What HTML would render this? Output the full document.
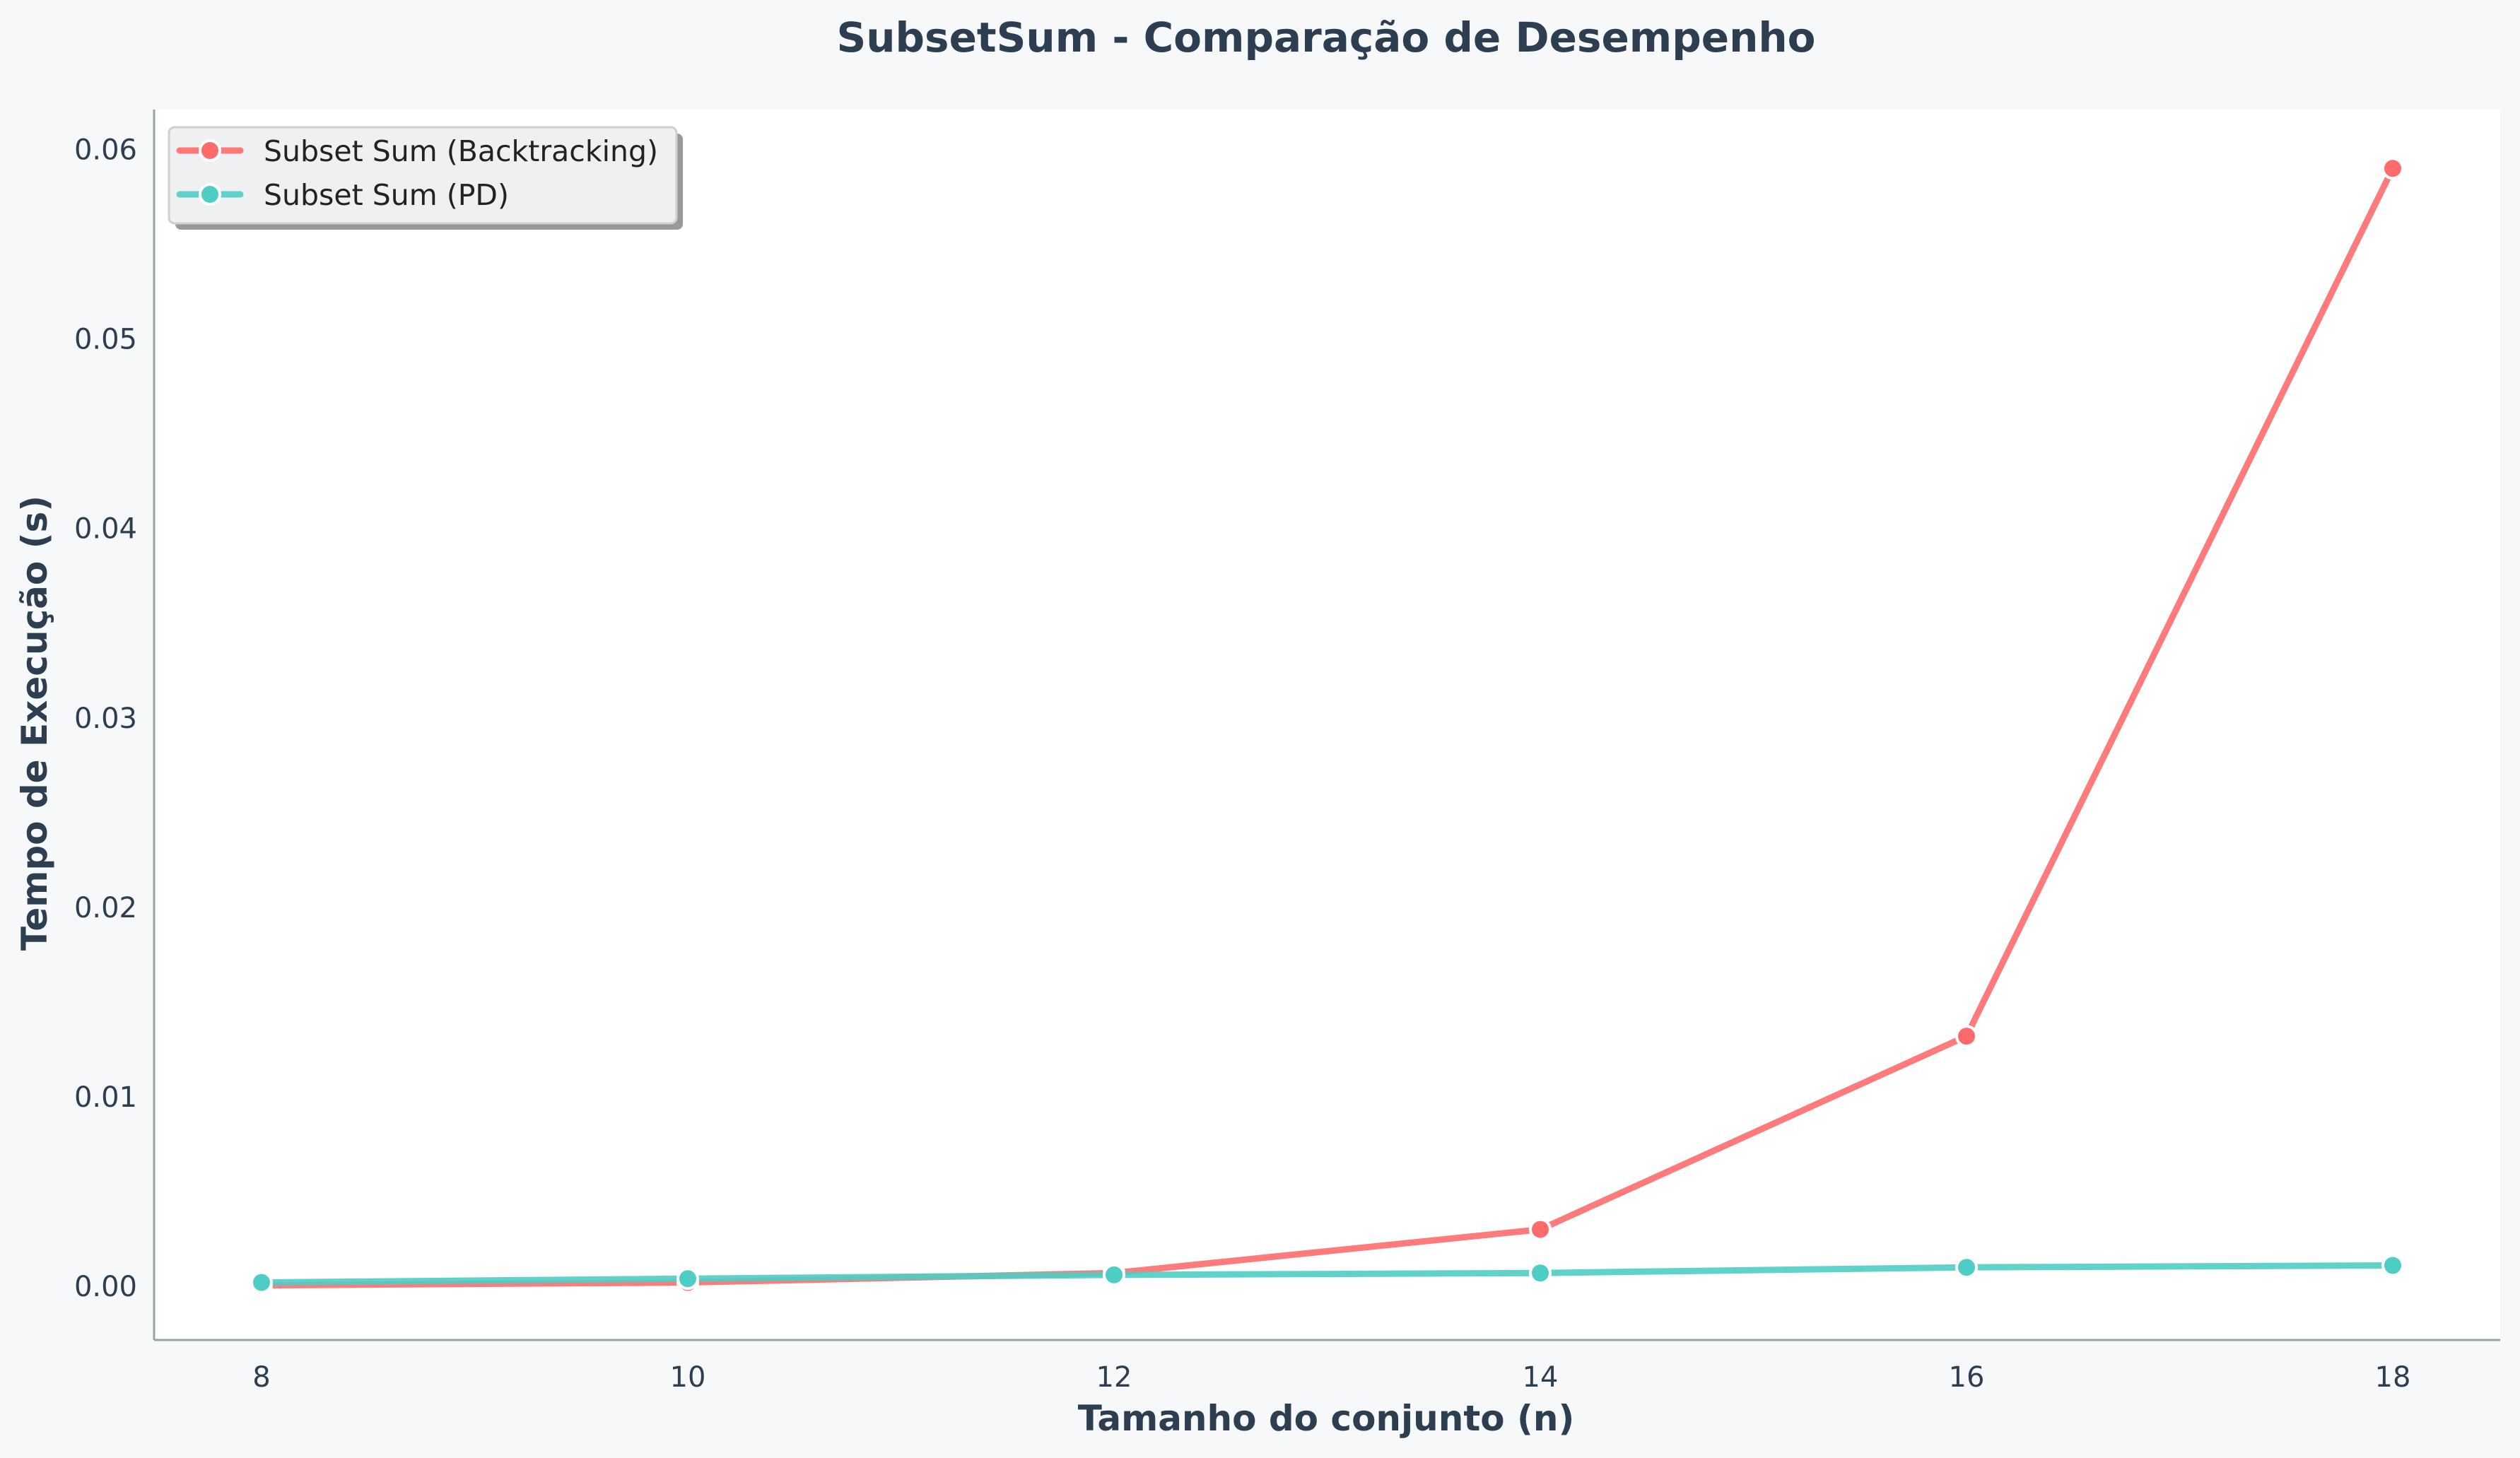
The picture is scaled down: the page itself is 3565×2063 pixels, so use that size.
<!DOCTYPE html>
<html><head><meta charset="utf-8"><style>
html,body{margin:0;padding:0;background:#f7f8fa;}
svg{display:block;font-family:"DejaVu Sans","Liberation Sans",sans-serif;}
</style></head><body>
<svg id="chart" width="3565" height="2063" viewBox="0 0 3565 2063">
<rect x="0" y="0" width="3565" height="2063" fill="#f7f8fa"/>
<rect x="218" y="155" width="3319" height="1741" fill="#ffffff"/>
<text x="1876" y="73" text-anchor="middle" font-size="58" font-weight="bold" fill="#2c3e50">SubsetSum - Comparação de Desempenho</text>
<g id="yticks"></g><g id="xticks"></g>
<line x1="218" y1="155" x2="218" y2="1896" stroke="#95a5a6" stroke-width="3"/>
<line x1="218" y1="1896" x2="3537" y2="1896" stroke="#95a5a6" stroke-width="3"/>
<g id="series"></g>
<text x="1876" y="2024" text-anchor="middle" font-size="50" font-weight="bold" fill="#2c3e50">Tamanho do conjunto (n)</text>
<text transform="translate(66,1023) rotate(-90)" text-anchor="middle" font-size="50" font-weight="bold" fill="#2c3e50">Tempo de Execução (s)</text>
<g>
<rect x="248" y="189" width="718" height="136" rx="8" fill="#999"/>
<rect x="239" y="180" width="718" height="136" rx="8" fill="#eff0f1" stroke="#d0d0d0" stroke-width="3"/>
<g>
<line x1="254" y1="213" x2="340" y2="213" stroke="#ff6b6b" stroke-opacity="0.9" stroke-width="9" stroke-linecap="round"/>
<circle cx="297" cy="213" r="14" fill="#ff6b6b" stroke="#fff" stroke-width="4"/>
<text x="373" y="228" font-size="41" fill="#222">Subset Sum (Backtracking)</text></g>
<g>
<line x1="254" y1="275" x2="340" y2="275" stroke="#4ecdc4" stroke-opacity="0.9" stroke-width="9" stroke-linecap="round"/>
<circle cx="297" cy="275" r="14" fill="#4ecdc4" stroke="#fff" stroke-width="4"/>
<text x="373" y="290" font-size="41" fill="#222">Subset Sum (PD)</text></g>
</g>
</svg>
<script>
const categories = [8, 10, 12, 14, 16, 18];
const backtrackingValues = [0.00005, 0.0002, 0.0007, 0.003, 0.0132, 0.059];
const pdValues = [0.0002, 0.0004, 0.0006, 0.0007, 0.001, 0.0011];
const yTickValues = [0, 0.01, 0.02, 0.03, 0.04, 0.05, 0.06];
const yTickLabels = ["0.00","0.01","0.02","0.03","0.04","0.05","0.06"];
const xTickLabels = ["8","10","12","14","16","18"];

const NS = "http://www.w3.org/2000/svg";
function xs(v){ return 370 + (v - 8) * (3385 - 370) / 10; }
function ys(v){ return 1820 - v * (1820 - 211.5) / 0.06; }
function mk(tag, attrs, parent){ const e=document.createElementNS(NS,tag); for(const k in attrs) e.setAttribute(k,attrs[k]); parent.appendChild(e); return e; }

const yt = document.getElementById('yticks');
yTickValues.forEach((v,i)=>{
  const t = mk('text',{x:194,y:ys(v)+14,'text-anchor':'end','font-size':'40',fill:'#2c3e50'},yt);
  t.textContent = yTickLabels[i];
  
  
});
const xt = document.getElementById('xticks');
categories.forEach((c,i)=>{
  const t = mk('text',{x:xs(c),y:1962,'text-anchor':'middle','font-size':'40',fill:'#2c3e50'},xt);
  t.textContent = xTickLabels[i];
  
  
});

const sg = document.getElementById('series');
function drawSeries(vals, color, name){
  const g = mk('g',{},sg);
  
  
  const pts = categories.map((c,i)=>xs(c)+','+ys(vals[i])).join(' ');
  const pl = mk('polyline',{points:pts,fill:'none',stroke:color,'stroke-opacity':'0.9','stroke-width':'9','stroke-linejoin':'round','stroke-linecap':'round'},g);
  
  
  categories.forEach((c,i)=>{
    const p = mk('circle',{cx:xs(c),cy:ys(vals[i]),r:14,fill:color,stroke:'#fff','stroke-width':'4'},g);
    
    
  });
}
drawSeries(backtrackingValues, '#ff6b6b', 'backtracking-series');
drawSeries(pdValues, '#4ecdc4', 'pd-series');
</script>
</body></html>
